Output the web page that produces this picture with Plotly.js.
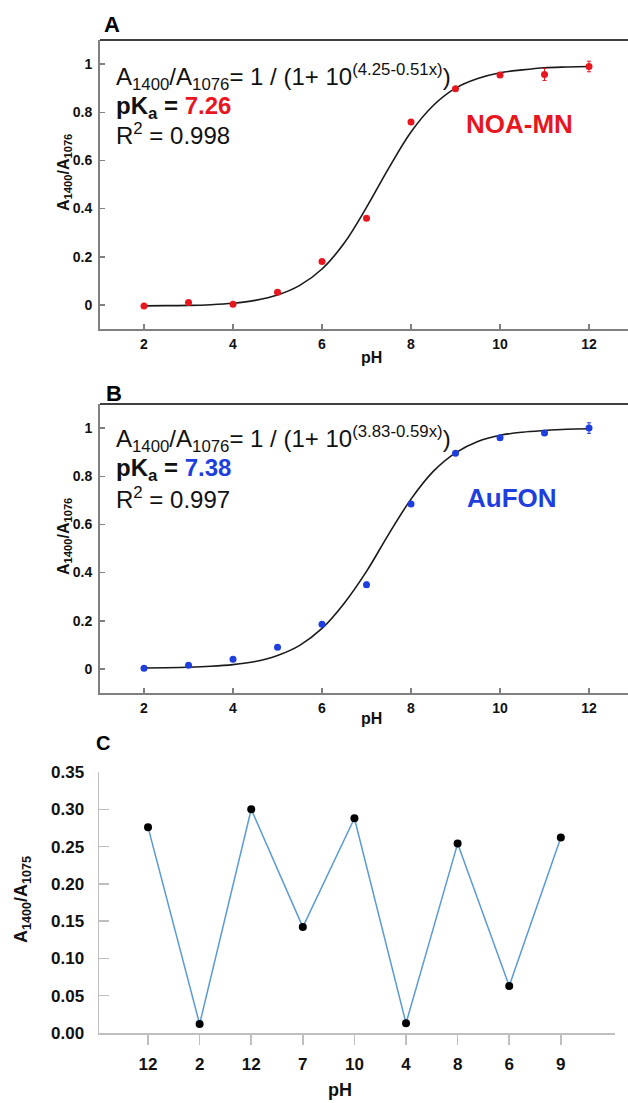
<!DOCTYPE html>
<html>
<head>
<meta charset="utf-8">
<script src="https://cdn.plot.ly/plotly-3.0.1.min.js"></script>
<style>html,body{margin:0;padding:0;background:#fff;overflow:hidden;}#chart{width:628px;height:1103px;}</style>
</head>
<body>
<div id="chart"></div>
<script>
// ---- Data ----
const pH = [2, 3, 4, 5, 6, 7, 8, 9, 10, 11, 12];
const ratioNOA = [-0.005, 0.01, 0.003, 0.053, 0.18, 0.36, 0.76, 0.898, 0.955, 0.957, 0.99];
const errNOA   = [0, 0, 0, 0, 0, 0, 0.01, 0.008, 0.008, 0.025, 0.022];
const ratioAuFON = [0.003, 0.015, 0.04, 0.09, 0.185, 0.35, 0.685, 0.895, 0.96, 0.98, 1.0];
const errAuFON   = [0, 0, 0, 0, 0, 0.01, 0, 0.008, 0.008, 0.006, 0.022];

const fitX = [2, 2.5, 3, 3.5, 4, 4.5, 5, 5.5, 6, 6.5, 7, 7.5, 8, 8.5, 9, 9.5, 10, 10.5, 11, 11.5, 12];
const fitNOA = [-0.004, -0.003, -0.002, 0.001, 0.007, 0.019, 0.041, 0.081, 0.149, 0.257, 0.405, 0.568, 0.718, 0.828, 0.900, 0.940, 0.964, 0.976, 0.985, 0.988, 0.990];
const fitAuFON = [0.004, 0.005, 0.007, 0.011, 0.018, 0.031, 0.056, 0.098, 0.168, 0.273, 0.405, 0.56, 0.705, 0.82, 0.897, 0.944, 0.970, 0.983, 0.990, 0.995, 0.997];

const seqLabels = ["12", "2", "12", "7", "10", "4", "8", "6", "9"];
const seqValues = [0.276, 0.012, 0.300, 0.142, 0.288, 0.013, 0.254, 0.063, 0.262];

const tickValsAB = [2, 4, 6, 8, 10, 12];
const tickTextAB = ["2", "4", "6", "8", "10", "12"];
const yTickValsAB = [0, 0.2, 0.4, 0.6, 0.8, 1];
const yTickTextAB = ["0", "0.2", "0.4", "0.6", "0.8", "1"];

// ---- Layout helpers ----
const W = 628, H = 1103;
const px = v => v / W;
const py = v => 1 - v / H;
const FONT = "Arial, 'Liberation Sans', sans-serif";
const RED = "rgb(232,22,30)";
const BLUE = "rgb(30,62,222)";

const seqIdx = seqLabels.map((_, i) => i);

const traces = [
  {x: fitX, y: fitNOA, xaxis: "x", yaxis: "y", mode: "lines", line: {color: "#1a1a1a", width: 1.6, shape: "spline"}, hoverinfo: "skip"},
  {x: pH, y: ratioNOA, xaxis: "x", yaxis: "y", mode: "markers", marker: {color: RED, size: 7},
   error_y: {type: "data", array: errNOA, visible: true, color: RED, thickness: 1, width: 2}, cliponaxis: false},
  {x: fitX, y: fitAuFON, xaxis: "x2", yaxis: "y2", mode: "lines", line: {color: "#1a1a1a", width: 1.6, shape: "spline"}, hoverinfo: "skip"},
  {x: pH, y: ratioAuFON, xaxis: "x2", yaxis: "y2", mode: "markers", marker: {color: BLUE, size: 7},
   error_y: {type: "data", array: errAuFON, visible: true, color: BLUE, thickness: 1, width: 2}, cliponaxis: false},
  {x: seqIdx, y: seqValues, xaxis: "x3", yaxis: "y3", mode: "lines+markers",
   line: {color: "rgb(91,155,213)", width: 1.5}, marker: {color: "#000", size: 8}, cliponaxis: false}
];

const axAB_x = (anchor) => ({
  domain: [px(100), 1], range: [1.011, 12.876], anchor: anchor,
  showline: true, linecolor: "#808080", linewidth: 2, zeroline: false, showgrid: false,
  ticks: "inside", ticklen: 5, tickcolor: "#808080", tickwidth: 1.5,
  tickvals: tickValsAB, ticktext: tickTextAB,
  tickfont: {family: FONT, size: 14, color: "#111", weight: "bold"}, ticklabelstandoff: 1
});
const axAB_y = (anchor, d0, d1) => ({
  domain: [py(d0), py(d1)], range: [-0.1, 1.1], anchor: anchor,
  showline: true, linecolor: "#808080", linewidth: 2, zeroline: false, showgrid: false,
  ticks: "inside", ticklen: 5, tickcolor: "#808080", tickwidth: 1.5,
  tickvals: yTickValsAB, ticktext: yTickTextAB,
  tickfont: {family: FONT, size: 14, color: "#111", weight: "bold"}, ticklabelstandoff: 3
});

const ann = (x, y, text, opts) => Object.assign({
  xref: "paper", yref: "paper", x: px(x), y: py(y), text: text, showarrow: false,
  xanchor: "left", yanchor: "middle", font: {family: FONT, size: 24, color: "#111"}
}, opts || {});

const layout = {
  width: W, height: H, margin: {l: 0, r: 0, t: 0, b: 0},
  paper_bgcolor: "#fff", plot_bgcolor: "rgba(0,0,0,0)", showlegend: false,
  xaxis: axAB_x("y"),
  yaxis: axAB_y("x", 329, 40),
  xaxis2: axAB_x("y2"),
  yaxis2: axAB_y("x2", 693, 404),
  xaxis3: {
    domain: [px(99), px(615)], range: [-0.95, 9.05], anchor: "y3",
    showline: true, linecolor: "#bfbfbf", linewidth: 1.5, zeroline: false, showgrid: false,
    ticks: "outside", ticklen: 10, tickcolor: "#bfbfbf", tickwidth: 1.5,
    tickvals: seqIdx, ticktext: seqLabels,
    tickfont: {family: FONT, size: 17, color: "#111", weight: "bold"}, ticklabelstandoff: 5
  },
  yaxis3: {
    domain: [py(1033), py(772)], range: [0, 0.35], anchor: "x3",
    showline: true, linecolor: "#bfbfbf", linewidth: 1.5, zeroline: false, showgrid: false,
    ticks: "inside", ticklen: 10, tickcolor: "#bfbfbf", tickwidth: 1.5,
    dtick: 0.05, tick0: 0, tickformat: ".2f",
    tickfont: {family: FONT, size: 17, color: "#111", weight: "bold"}, ticklabelstandoff: 10
  },
  shapes: [
    {type: "line", xref: "paper", yref: "paper", x0: px(100), x1: 1, y0: py(40), y1: py(40), line: {color: "#000", width: 1.5}},
    {type: "line", xref: "paper", yref: "paper", x0: px(100), x1: 1, y0: py(404), y1: py(404), line: {color: "#000", width: 1.5}}
  ],
  annotations: [
    ann(102, 25, "<b>A</b>", {font: {family: FONT, size: 22, color: "#000"}}),
    ann(104, 393, "<b>B</b>", {font: {family: FONT, size: 22, color: "#000"}}),
    ann(94, 743, "<b>C</b>", {font: {family: FONT, size: 20, color: "#000"}}),

    ann(114, 77, "A<sub>1400</sub>/A<sub>1076</sub>= 1 / (1+ 10<sup>(4.25-0.51x)</sup>)"),
    ann(114, 107, "<b>pK<sub>a</sub> = <span style='color:" + RED + "'>7.26</span></b>"),
    ann(114, 134, "R<sup>2</sup> = 0.998"),
    ann(519, 124, "<b>NOA-MN</b>", {xanchor: "center", font: {family: FONT, size: 26, color: RED}}),

    ann(114, 439, "A<sub>1400</sub>/A<sub>1076</sub>= 1 / (1+ 10<sup>(3.83-0.59x)</sup>)"),
    ann(114, 469, "<b>pK<sub>a</sub> = <span style='color:" + BLUE + "'>7.38</span></b>"),
    ann(114, 498, "R<sup>2</sup> = 0.997"),
    ann(512, 498, "<b>AuFON</b>", {xanchor: "center", font: {family: FONT, size: 26, color: BLUE}}),

    ann(64, 173, "<b>A<sub>1400</sub>/A<sub>1076</sub></b>", {xanchor: "center", textangle: -90, font: {family: FONT, size: 16, color: "#111"}}),
    ann(64, 537, "<b>A<sub>1400</sub>/A<sub>1076</sub></b>", {xanchor: "center", textangle: -90, font: {family: FONT, size: 16, color: "#111"}}),
    ann(371, 357, "<b>pH</b>", {xanchor: "center", font: {family: FONT, size: 16, color: "#111"}}),
    ann(371, 718, "<b>pH</b>", {xanchor: "center", font: {family: FONT, size: 16, color: "#111"}}),

    ann(22, 900, "<b>A<sub>1400</sub>/A<sub>1075</sub></b>", {xanchor: "center", textangle: -90, font: {family: FONT, size: 18, color: "#111"}}),
    ann(340, 1102, "<b>pH</b>", {xanchor: "center", yanchor: "bottom", font: {family: FONT, size: 18, color: "#111"}})
  ]
};

Plotly.newPlot("chart", traces, layout, {staticPlot: true, displayModeBar: false});
</script>
</body>
</html>
